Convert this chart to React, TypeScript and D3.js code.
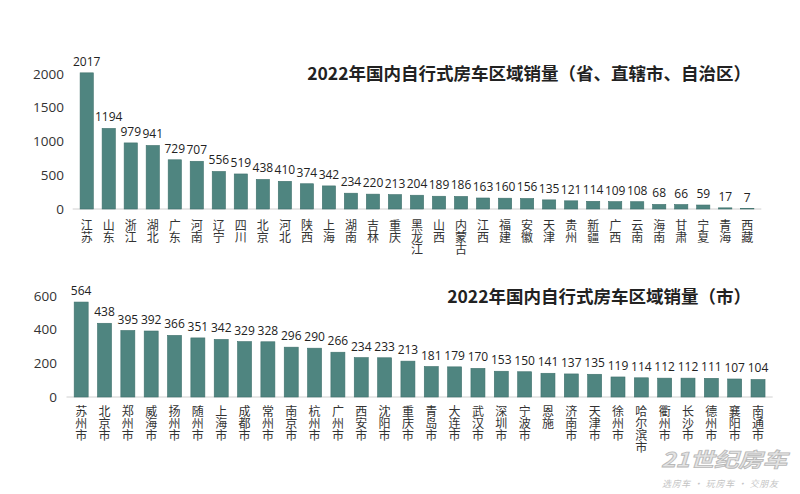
import React from "react";
import * as d3 from "d3";

const provinces = ["江苏","山东","浙江","湖北","广东","河南","辽宁","四川","北京","河北","陕西","上海","湖南","吉林","重庆","黑龙江","山西","内蒙古","江西","福建","安徽","天津","贵州","新疆","广西","云南","海南","甘肃","宁夏","青海","西藏"];
const provinceSales = [2017,1194,979,941,729,707,556,519,438,410,374,342,234,220,213,204,189,186,163,160,156,135,121,114,109,108,68,66,59,17,7];
const provinceTicks = [0,500,1000,1500,2000];

const cities = ["苏州市","北京市","郑州市","威海市","扬州市","随州市","上海市","成都市","常州市","南京市","杭州市","广州市","西安市","沈阳市","重庆市","青岛市","大连市","武汉市","深圳市","宁波市","恩施","济南市","天津市","徐州市","哈尔滨市","衢州市","长沙市","德州市","襄阳市","南通市"];
const citySales = [564,438,395,392,366,351,342,329,328,296,290,266,234,233,213,181,179,170,153,150,141,137,135,119,114,112,112,111,107,104];
const cityTicks = [0,200,400,600];

const titleTop = "2022年国内自行式房车区域销量（省、直辖市、自治区）";
const titleBottom = "2022年国内自行式房车区域销量（市）";

const BAR = "#4f8580";
const NUM_FONT = "'Open Sans', 'Noto Sans', 'Noto Sans CJK SC', sans-serif";
const CJK_FONT = "'Noto Sans CJK SC', sans-serif";

type PanelProps = {
  cats: string[];
  vals: number[];
  ticks: number[];
  max: number;
  x0: number;
  x1: number;
  yBottom: number;
  yTop: number;
  tickX: number;
  labelY: number;
  title: string;
  titleY: number;
};

function Panel(p: PanelProps) {
  const x = d3.scaleBand<string>().domain(p.cats).range([p.x0, p.x1]).paddingInner(0.4).paddingOuter(0.2);
  const y = d3.scaleLinear().domain([0, p.max]).range([p.yBottom, p.yTop]);
  return (
    <g>
      {p.ticks.map((t) => (
        <text key={t} x={p.tickX} y={y(t)} dy="0.35em" textAnchor="end" fontSize={13.5} fill="#333" fontFamily={NUM_FONT}>
          {t}
        </text>
      ))}
      <line x1={p.x0 - 3} x2={p.x1 + 3} y1={y(0)} y2={y(0)} stroke="#d0d0d0" strokeWidth={1} />
      {p.cats.map((c, i) => {
        const v = p.vals[i];
        const bx = x(c)!;
        const bw = x.bandwidth();
        const cx = bx + bw / 2;
        return (
          <g key={c}>
            <rect x={bx} y={y(v)} width={bw} height={y(0) - y(v)} fill={BAR} stroke="#3f716c" strokeWidth={0.6} />
            <text x={cx} y={y(v) - 7} textAnchor="middle" fontSize={12} fill="#222" fontFamily={NUM_FONT}>
              {v}
            </text>
            <text
              x={cx}
              y={p.labelY}
              fontSize={12}
              fill="#333"
              fontFamily={CJK_FONT}
              style={{ writingMode: "vertical-rl", textOrientation: "upright" }}
            >
              {c}
            </text>
          </g>
        );
      })}
      <text x={751} y={p.titleY} textAnchor="end" fontSize={17.5} fontWeight="bold" fill="#222" fontFamily={CJK_FONT}>
        {p.title}
      </text>
    </g>
  );
}

export default function App() {
  return (
    <svg width={800} height={494} style={{ position: "absolute", left: 0, top: 0, background: "#fff" }}>
      <rect width={800} height={494} fill="#fff" />
      <Panel
        cats={provinces}
        vals={provinceSales}
        ticks={provinceTicks}
        max={2000}
        x0={75.7}
        x1={758.3}
        yBottom={209}
        yTop={74}
        tickX={64}
        labelY={219}
        title={titleTop}
        titleY={80}
      />
      <Panel
        cats={cities}
        vals={citySales}
        ticks={cityTicks}
        max={600}
        x0={69.5}
        x1={769.7}
        yBottom={397}
        yTop={296}
        tickX={57}
        labelY={405}
        title={titleBottom}
        titleY={303}
      />
      <text x={661} y={467} fontSize={20} fontStyle="italic" fontWeight="bold" fill="#e4e4e4" stroke="#b8b8b8" strokeWidth={0.8} fontFamily={CJK_FONT} textLength={126} lengthAdjust="spacingAndGlyphs">
        21世纪房车
      </text>
      <text x={662} y={487} fontSize={9} fill="#c4c4c4" fontStyle="italic" fontFamily={CJK_FONT} textLength={116} lengthAdjust="spacing">
        选房车 · 玩房车 · 交朋友
      </text>
    </svg>
  );
}
